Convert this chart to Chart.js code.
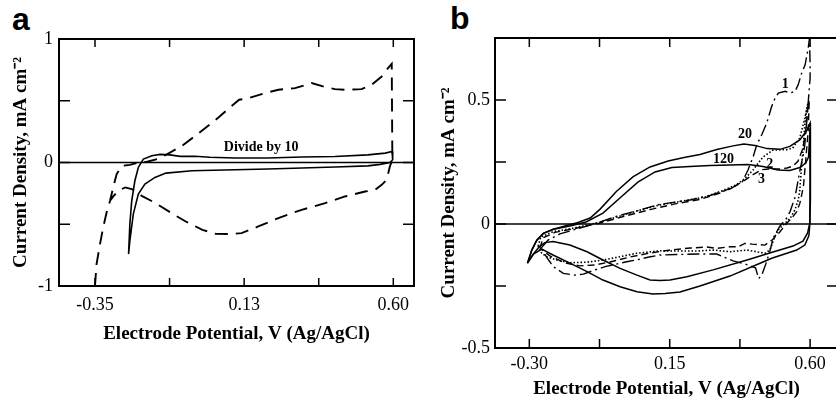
<!DOCTYPE html>
<html>
<head>
<meta charset="utf-8">
<script src="https://cdn.jsdelivr.net/npm/chart.js@4.4.0/dist/chart.umd.min.js"></script>
<style>
  html, body { margin: 0; padding: 0; background: #fff; width: 836px; height: 400px; overflow: hidden; position: relative; }
  .panel { position: absolute; top: 0; }
  .tag { position: absolute; font: bold 32px "Liberation Sans", Arial, sans-serif; line-height: 32px; color: #000; }
</style>
</head>
<body>
<div class="tag" style="left:12px;top:3px">a</div>
<div class="tag" style="left:450px;top:2px">b</div>
<canvas id="chartA" class="panel" style="left:0" width="420" height="400"></canvas>
<canvas id="chartB" class="panel" style="left:416px" width="424" height="400"></canvas>
<script>
const serif = '"Liberation Serif", "Times New Roman", serif';

// ---- panel a ----
const aXTicks = [-0.35, -0.1125, 0.125, 0.3625, 0.60];
const aXLabels = ['-0.35', '', '0.13', '', '0.60'];
const aYTicks = [-1, -0.5, 0, 0.5, 1];
const aYLabels = ['-1', '', '0', '', '1'];

// dashed CV
const aDashX = [-0.350, -0.345, -0.334, -0.324, -0.313, -0.302, -0.292, -0.281, -0.265, -0.239, -0.207, -0.184, -0.146, -0.114, -0.073, -0.019, 0.045, 0.077, 0.109, 0.138, 0.191, 0.234, 0.287, 0.340, 0.383, 0.414, 0.446, 0.499, 0.531, 0.563, 0.579, 0.595, 0.597, 0.589, 0.579, 0.563, 0.542, 0.510, 0.446, 0.383, 0.308, 0.234, 0.170, 0.117, 0.080, 0.034, -0.008, -0.061, -0.098, -0.157, -0.201, -0.233, -0.254, -0.276, -0.293, -0.302];
const aDashY = [-1.000, -0.823, -0.661, -0.526, -0.405, -0.310, -0.202, -0.094, -0.027, -0.019, 0.002, 0.006, 0.032, 0.076, 0.135, 0.238, 0.368, 0.440, 0.508, 0.521, 0.562, 0.589, 0.602, 0.643, 0.611, 0.594, 0.589, 0.594, 0.629, 0.696, 0.751, 0.799, 0.022, -0.032, -0.140, -0.181, -0.221, -0.235, -0.275, -0.329, -0.383, -0.450, -0.518, -0.572, -0.580, -0.577, -0.545, -0.478, -0.423, -0.329, -0.270, -0.215, -0.202, -0.229, -0.278, -0.310];

// solid CV ("Divide by 10")
const aSolidX = [-0.243, -0.239, -0.233, -0.223, -0.212, -0.196, -0.169, -0.143, -0.111, -0.079, -0.032, 0.016, 0.096, 0.201, 0.309, 0.414, 0.519, 0.574, 0.596, 0.599, 0.597, 0.589, 0.558, 0.519, 0.414, 0.309, 0.201, 0.096, -0.041, -0.124, -0.159, -0.191, -0.212, -0.228, -0.239, -0.243];
const aSolidY = [-0.742, -0.499, -0.310, -0.148, -0.040, 0.028, 0.054, 0.066, 0.062, 0.050, 0.050, 0.042, 0.036, 0.036, 0.044, 0.049, 0.062, 0.076, 0.089, 0.062, 0.022, 0.000, -0.015, -0.027, -0.037, -0.045, -0.053, -0.059, -0.067, -0.086, -0.121, -0.175, -0.256, -0.418, -0.634, -0.742];

const aNotes = [{text: 'Divide by 10', x: 0.179, y: 0.119}];

// ---- panel b ----
const bXTicks = [-0.30, -0.075, 0.15, 0.375, 0.60];
const bXLabels = ['-0.30', '', '0.15', '', '0.60'];
const bYTicks = [-0.5, -0.25, 0, 0.25, 0.5, 0.75];
const bYLabels = ['-0.5', '', '0', '', '0.5', ''];

// cycle 1 (dash-dot)
const b1X = [-0.262, -0.240, -0.202, -0.137, -0.073, -0.019, 0.023, 0.064, 0.109, 0.151, 0.215, 0.279, 0.343, 0.382, 0.401, 0.418, 0.429, 0.445, 0.461, 0.477, 0.488, 0.498, 0.520, 0.536, 0.552, 0.562, 0.573, 0.584, 0.589, 0.594, 0.598, 0.600, 0.600, 0.592, 0.583, 0.578, 0.567, 0.557, 0.551, 0.536, 0.525, 0.503, 0.482, 0.471, 0.458, 0.445, 0.435, 0.425, 0.391, 0.353, 0.301, 0.247, 0.170, 0.119, 0.080, 0.044, 0.012, -0.057, -0.089, -0.127, -0.154, -0.191, -0.223, -0.243, -0.262];
const b1Y = [-0.097, -0.065, -0.040, -0.016, 0.008, 0.032, 0.046, 0.060, 0.077, 0.085, 0.097, 0.115, 0.141, 0.169, 0.218, 0.273, 0.319, 0.360, 0.407, 0.475, 0.508, 0.528, 0.535, 0.528, 0.535, 0.562, 0.609, 0.642, 0.676, 0.710, 0.750, 0.642, 0.589, 0.460, 0.320, 0.279, 0.214, 0.145, 0.105, 0.051, 0.024, -0.009, -0.056, -0.110, -0.161, -0.206, -0.220, -0.177, -0.161, -0.149, -0.121, -0.121, -0.123, -0.125, -0.134, -0.145, -0.152, -0.172, -0.185, -0.202, -0.206, -0.199, -0.172, -0.137, -0.097];

// cycle 2 (dotted)
const b2X = [-0.272, -0.263, -0.224, -0.192, -0.160, -0.128, -0.073, -0.009, 0.055, 0.119, 0.202, 0.266, 0.320, 0.362, 0.391, 0.417, 0.449, 0.481, 0.525, 0.544, 0.567, 0.583, 0.592, 0.597, 0.589, 0.583, 0.578, 0.573, 0.567, 0.562, 0.551, 0.536, 0.514, 0.498, 0.487, 0.477, 0.471, 0.455, 0.429, 0.397, 0.343, 0.290, 0.237, 0.183, 0.119, 0.044, -0.009, -0.063, -0.116, -0.170, -0.212, -0.244, -0.260, -0.272];
const b2Y = [-0.089, -0.052, -0.031, -0.024, -0.017, -0.008, 0.008, 0.032, 0.056, 0.077, 0.095, 0.110, 0.135, 0.157, 0.183, 0.218, 0.270, 0.298, 0.300, 0.306, 0.347, 0.427, 0.481, 0.496, 0.460, 0.400, 0.306, 0.239, 0.137, 0.097, 0.056, 0.023, -0.004, -0.024, -0.051, -0.085, -0.105, -0.118, -0.112, -0.105, -0.112, -0.105, -0.109, -0.109, -0.108, -0.118, -0.132, -0.145, -0.154, -0.156, -0.145, -0.132, -0.118, -0.089];

// cycle 3 (dashed)
const b3X = [-0.266, -0.256, -0.218, -0.154, -0.073, 0.007, 0.087, 0.167, 0.247, 0.311, 0.359, 0.391, 0.417, 0.444, 0.471, 0.503, 0.526, 0.544, 0.561, 0.577, 0.586, 0.592, 0.597, 0.594, 0.586, 0.579, 0.573, 0.567, 0.557, 0.541, 0.525, 0.503, 0.478, 0.455, 0.414, 0.391, 0.369, 0.343, 0.301, 0.269, 0.215, 0.151, 0.087, 0.023, -0.041, -0.089, -0.138, -0.186, -0.234, -0.266];
const b3Y = [-0.097, -0.056, -0.034, -0.018, 0.004, 0.032, 0.058, 0.081, 0.099, 0.125, 0.153, 0.177, 0.199, 0.219, 0.222, 0.222, 0.226, 0.233, 0.253, 0.306, 0.379, 0.460, 0.492, 0.379, 0.258, 0.157, 0.117, 0.083, 0.050, 0.023, 0.003, -0.032, -0.065, -0.085, -0.081, -0.078, -0.092, -0.092, -0.098, -0.093, -0.097, -0.105, -0.117, -0.133, -0.153, -0.165, -0.169, -0.157, -0.129, -0.097];

// cycle 20 (solid, outer)
const b20X = [-0.306, -0.292, -0.276, -0.255, -0.223, -0.180, -0.144, -0.105, -0.073, -0.021, 0.032, 0.087, 0.145, 0.196, 0.247, 0.301, 0.353, 0.388, 0.423, 0.462, 0.503, 0.535, 0.567, 0.588, 0.600, 0.601, 0.601, 0.599, 0.596, 0.583, 0.557, 0.477, 0.449, 0.343, 0.247, 0.183, 0.135, 0.096, 0.045, -0.009, -0.064, -0.115, -0.170, -0.224, -0.260, -0.287, -0.306];
const b20Y = [-0.158, -0.105, -0.065, -0.038, -0.021, -0.006, 0.006, 0.024, 0.060, 0.131, 0.190, 0.230, 0.254, 0.268, 0.280, 0.300, 0.315, 0.323, 0.317, 0.304, 0.301, 0.313, 0.339, 0.375, 0.407, 0.258, 0.097, -0.004, -0.048, -0.085, -0.105, -0.138, -0.153, -0.210, -0.250, -0.274, -0.280, -0.282, -0.273, -0.253, -0.226, -0.192, -0.158, -0.125, -0.101, -0.121, -0.158];

// cycle 120 (solid, inner)
const b120X = [-0.306, -0.292, -0.276, -0.255, -0.223, -0.170, -0.118, -0.064, -0.006, 0.048, 0.103, 0.157, 0.215, 0.279, 0.343, 0.401, 0.449, 0.497, 0.535, 0.567, 0.586, 0.595, 0.600, 0.600, 0.599, 0.592, 0.577, 0.545, 0.481, 0.398, 0.289, 0.205, 0.151, 0.119, 0.087, 0.045, -0.009, -0.064, -0.115, -0.170, -0.224, -0.250, -0.266, -0.287, -0.306];
const b120Y = [-0.158, -0.105, -0.065, -0.038, -0.021, -0.008, 0.008, 0.044, 0.109, 0.169, 0.210, 0.228, 0.232, 0.236, 0.238, 0.240, 0.232, 0.218, 0.216, 0.228, 0.246, 0.270, 0.387, 0.177, 0.004, -0.036, -0.069, -0.089, -0.113, -0.145, -0.185, -0.213, -0.226, -0.228, -0.226, -0.206, -0.179, -0.145, -0.112, -0.085, -0.071, -0.075, -0.089, -0.121, -0.158];

const bNotes = [
    {text: '1', x: 0.520, y: 0.562},
    {text: '20', x: 0.391, y: 0.360},
    {text: '120', x: 0.322, y: 0.259},
    {text: '2', x: 0.471, y: 0.242},
    {text: '3', x: 0.444, y: 0.179}
];

function pts(xs, ys) {
    return xs.map((x, i) => ({x: x, y: ys[i]}));
}

function curve(xs, ys, dash, width) {
    return {
        data: pts(xs, ys),
        showLine: true,
        borderColor: '#000',
        borderWidth: width,
        borderDash: dash,
        pointRadius: 0,
        fill: false,
        tension: 0
    };
}

// box, inward tick marks, zero line and curve labels
const framePlugin = {
    id: 'frame',
    afterDatasetsDraw(chart, args, opts) {
        const {ctx, chartArea: a, scales: {x, y}} = chart;
        ctx.save();
        ctx.strokeStyle = '#000';
        ctx.lineWidth = 1.5;
        const y0 = y.getPixelForValue(0);
        ctx.beginPath();
        ctx.moveTo(a.left, y0);
        ctx.lineTo(a.right, y0);
        ctx.stroke();

        ctx.lineWidth = 2;
        ctx.strokeRect(a.left, a.top, a.right - a.left, a.bottom - a.top);

        ctx.lineWidth = 1.5;
        ctx.beginPath();
        x.ticks.forEach(t => {
            const px = x.getPixelForValue(t.value);
            ctx.moveTo(px, a.top);
            ctx.lineTo(px, a.top + opts.xLen);
            ctx.moveTo(px, a.bottom);
            ctx.lineTo(px, a.bottom - opts.xLen);
        });
        y.ticks.forEach(t => {
            const py = y.getPixelForValue(t.value);
            ctx.moveTo(a.left, py);
            ctx.lineTo(a.left + opts.yLen, py);
            ctx.moveTo(a.right, py);
            ctx.lineTo(a.right - opts.yLen, py);
        });
        ctx.stroke();

        ctx.fillStyle = '#000';
        ctx.font = 'bold 14px ' + serif;
        ctx.textAlign = 'center';
        ctx.textBaseline = 'middle';
        (opts.notes || []).forEach(n => {
            ctx.fillText(n.text, x.getPixelForValue(n.x), y.getPixelForValue(n.y));
        });
        ctx.restore();
    }
};

function axes(o) {
    return {
        x: {
            type: 'linear',
            min: o.xMin,
            max: o.xMax,
            afterBuildTicks: s => { s.ticks = o.xTicks.map(v => ({value: v})); },
            afterFit: s => { s.height = o.xHeight; },
            grid: {display: false, drawTicks: false},
            border: {display: false},
            ticks: {
                autoSkip: false, maxRotation: 0, padding: o.xPad, color: '#000',
                font: {family: serif, size: 18},
                callback: (v, i) => o.xLabels[i]
            },
            title: {
                display: true, text: 'Electrode Potential, V (Ag/AgCl)', color: '#000',
                font: {family: serif, size: 19, weight: 'bold'},
                padding: {top: 0, bottom: o.xTitlePad}
            }
        },
        y: {
            type: 'linear',
            min: o.yMin,
            max: o.yMax,
            afterBuildTicks: s => { s.ticks = o.yTicks.map(v => ({value: v})); },
            afterFit: s => { s.width = o.yWidth; },
            grid: {display: false, drawTicks: false},
            border: {display: false},
            ticks: {
                autoSkip: false, padding: o.yPad, color: '#000',
                font: {family: serif, size: 18},
                callback: (v, i) => o.yLabels[i]
            },
            title: {
                display: true, text: 'Current Density, mA cm\u207B\u00B2', color: '#000',
                font: {family: serif, size: 19, weight: 'bold'},
                padding: {top: o.yTitlePad, bottom: 0}
            }
        }
    };
}

new Chart(document.getElementById('chartA'), {
    type: 'scatter',
    data: {
        datasets: [
            curve(aDashX, aDashY, [13, 8], 1.9),
            curve(aSolidX, aSolidY, [], 1.6)
        ]
    },
    options: {
        responsive: false,
        animation: false,
        layout: {padding: {top: 39, right: 6, left: 0, bottom: 0}},
        plugins: {
            legend: {display: false},
            tooltip: {enabled: false},
            frame: {xLen: 8, yLen: 11, notes: aNotes}
        },
        scales: axes({
            xMin: -0.4646, xMax: 0.6659, xTicks: aXTicks, xLabels: aXLabels,
            xHeight: 114, xPad: 8, xTitlePad: 55,
            yMin: -1, yMax: 1, yTicks: aYTicks, yLabels: aYLabels,
            yWidth: 59, yPad: 6, yTitlePad: 10
        })
    },
    plugins: [framePlugin]
});

new Chart(document.getElementById('chartB'), {
    type: 'scatter',
    data: {
        datasets: [
            curve(b1X, b1Y, [12, 4, 2, 4], 1.4),
            curve(b2X, b2Y, [1.5, 2], 1.6),
            curve(b3X, b3Y, [7, 4], 1.4),
            curve(b20X, b20Y, [], 1.5),
            curve(b120X, b120Y, [], 1.5)
        ]
    },
    options: {
        responsive: false,
        animation: false,
        layout: {padding: {top: 38, right: 2, left: 0, bottom: 0}},
        plugins: {
            legend: {display: false},
            tooltip: {enabled: false},
            frame: {xLen: 9, yLen: 11, notes: bNotes}
        },
        scales: axes({
            xMin: -0.410, xMax: 0.6894, xTicks: bXTicks, xLabels: bXLabels,
            xHeight: 52, xPad: 5, xTitlePad: 0,
            yMin: -0.5, yMax: 0.75, yTicks: bYTicks, yLabels: bYLabels,
            yWidth: 79, yPad: 5, yTitlePad: 22
        })
    },
    plugins: [framePlugin]
});
</script>
</body>
</html>
